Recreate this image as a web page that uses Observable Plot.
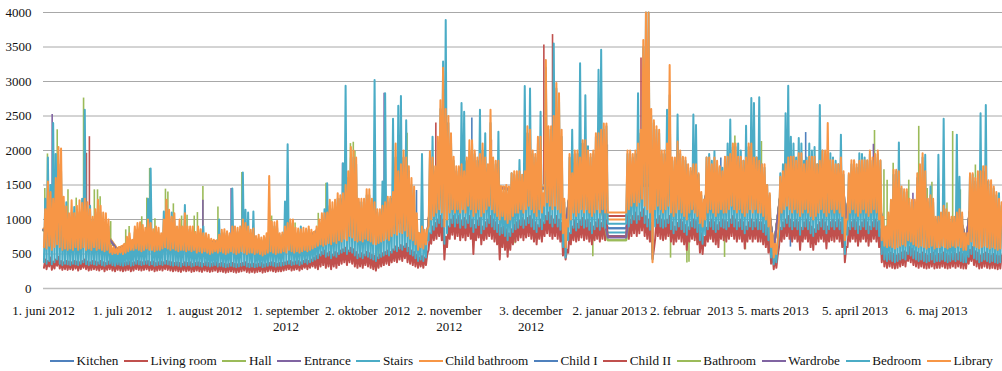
<!DOCTYPE html>
<html>
<head>
<meta charset="utf-8">
<script src="https://cdn.jsdelivr.net/npm/d3@7"></script>
<script src="https://cdn.jsdelivr.net/npm/@observablehq/plot@0.6"></script>
<style>
  html, body { margin: 0; padding: 0; background: #fff; }
  body { width: 1002px; height: 371px; overflow: hidden; font-family: "Liberation Serif", "Times New Roman", "DejaVu Serif", serif; }
  #legend { display: flex; align-items: center; height: 18px; margin-top: 10px; padding-left: 50px; font-size: 13.2px; color: #111; white-space: nowrap; }
  #legend .item { display: flex; align-items: center; margin-right: 5.6px; }
  #legend .sw { display: inline-block; width: 24px; height: 2px; margin-right: 2.6px; }
</style>
</head>
<body>
<div id="chart"></div>
<div id="legend"></div>
<script>
// ---------------- DATA ----------------
const startDate = "2012-06-01";           // day 0
const endDate = "2013-05-31";
const seriesNames = ["Kitchen", "Living room", "Hall", "Entrance", "Stairs", "Child bathroom",
                     "Child I", "Child II", "Bathroom", "Wardrobe", "Bedroom", "Library"];
const seriesColors = ["#4F81BD", "#C0504D", "#9BBB59", "#8064A2", "#4BACC6", "#F79646",
                      "#4F81BD", "#C0504D", "#9BBB59", "#8064A2", "#4BACC6", "#F79646"];
const yTicks = [0, 500, 1000, 1500, 2000, 2500, 3000, 3500, 4000];
const xTickDates = ["2012-06-01", "2012-07-01", "2012-08-01", "2012-09-01", "2012-10-02", "2012-11-02",
                    "2012-12-03", "2013-01-02", "2013-02-02", "2013-03-05", "2013-04-05", "2013-05-06"];
const xTickLabels = ["1. juni 2012", "1. juli 2012", "1. august 2012", "1. september\n2012", "2. oktober  2012",
                     "2. november\n2012", "3. december\n2012", "2. januar 2013", "2. februar  2013",
                     "5. marts 2013", "5. april 2013", "6. maj 2013"];

// Daily readings (one daily low, one daily high), days 0..363 from 1 June 2012; null = no data
const libraryHigh = [
 1150,1550,1400,1300,1600,2050,2030,1330,1190,1090, 1280,1090,1200,1280,1240,1300,1250,1150,1040,1150,
 1285,1200,1100,1090,1000,620,600,580,600,610, 650,750,800,705,900,950,960,920,880,1000,
 950,860,900,880,800,1000,1285,1140,1040,1090, 900,1000,900,1090,900,900,900,820,900,860,
 800,800,780,720,705,700,780,850,860,830, 800,900,900,880,900,1000,950,900,850,870,
 760,780,740,760,800,1630,970,960,980,800, 810,900,950,1000,1000,880,870,860,880,870,
 900,850,820,900,1000,1090,1090,1100,1285,1250, 1285,1380,1350,1380,1500,1700,2050,2000,1900,1300,
 1300,1300,1440,1440,1300,1250,1150,1150,1200,1250, 1330,1330,1400,2100,1700,1800,2000,1900,1770,1600,
 1480,1090,800,900,850,850,1990,1900,1770,2200, 2730,3200,2600,2500,2250,1910,1770,1770,1800,1700,
 1900,2150,2150,2000,1900,1950,2100,1900,1800,2590, 1900,1850,1850,1480,1480,1500,1480,1670,1700,1700,
 1700,1650,1700,2350,2300,2000,1950,2200,2200,1380, 3310,2350,2350,2500,2980,2830,2300,1300,1000,1950,
 1670,2000,2000,1900,2150,2150,2000,1950,2000,2250, 2250,2300,2390,2390,null,null,null,null,null,null,
 null,2000,2000,1950,2000,2100,2300,3600,4300,4300, 2600,2440,2350,2300,2000,2000,2100,3240,1900,1900,
 2130,2000,1910,1900,1800,1745,1800,1800,1670,1400, 1290,1900,1900,1800,1900,1850,1770,1700,1910,1910,
 1950,2100,2100,1910,1910,1850,1900,2100,2100,1900, 1900,1850,1800,1800,1500,1380,800,650,700,1620,
 1700,1800,1900,1910,1910,1850,1960,1960,1800,1850, 1910,1910,1910,1800,1850,2000,2000,2400,1860,1860,
 1800,1800,1900,1700,1000,1670,1860,1860,1800,1850, 1860,1860,1860,2000,1900,1950,2000,1860,1040,900,
 1100,1285,1720,1720,1700,1480,1440,1440,1300,1285, 1285,1670,1800,1960,1700,1300,1350,1300,1040,1040,
 1100,1200,1150,1100,1040,1040,1100,1150,1100,800, 800,1670,1670,1600,1700,1700,1770,1770,1570,1570,
 1480,1400,1300,1250];
const libraryLow = [
 600,580,620,560,600,640,600,560,580,560, 580,560,600,560,580,600,560,580,560,600,
 560,580,560,540,560,520,500,510,500,520, 500,520,540,560,560,580,560,540,560,580,
 560,560,540,560,560,580,600,580,560,580, 560,540,560,560,540,560,540,560,520,540,
 520,540,520,500,520,540,520,540,520,500, 520,540,520,500,520,540,520,500,520,520,
 500,520,500,480,500,520,540,520,500,520, 520,540,520,560,540,520,540,520,540,560,
 540,560,580,600,620,640,620,640,660,640, 680,660,700,680,720,700,760,740,700,680,
 700,680,720,700,680,650,640,660,680,700, 720,700,760,800,780,820,800,840,760,720,
 700,640,560,600,580,640,900,1000,1050,1100, 1150,1100,900,1000,1100,1150,1100,1150,1100,1150,
 1100,1200,1150,1050,1100,1150,1050,1100,1150,1200, 1150,1100,1050,1000,1050,1000,950,1000,1050,1100,
 1100,1150,1100,1150,1200,1150,1100,1050,1150,1100, 1200,1250,1200,1150,1200,1150,1100,800,600,900,
 1000,1100,1050,1100,1150,1100,1150,1100,1050,1100, 1150,1100,1150,1100,1100,null,null,null,null,null,
 null,1100,1150,1200,1250,1200,1250,1300,1200,1150, 1100,380,1150,1200,1150,1100,1150,1200,1100,1050,
 1100,1150,1100,1050,1000,1100,1150,1100,1050,950, 900,1000,1100,1150,1100,1050,1100,1150,1100,1100,
 1150,1200,1150,1100,1150,1100,1050,1100,1150,1100, 1150,1100,1100,1050,1000,900,600,450,500,1000,
 1100,1150,1200,1150,1100,1150,1100,1050,1100,1150, 1100,1050,1000,1050,1100,1150,1100,1050,1100,1150,
 1100,1150,1100,1050,700,1000,1100,1150,1100,1050, 1100,1150,1100,1050,1100,1150,1100,1000,700,620,
 600,620,600,580,600,620,640,620,700,680, 640,620,600,620,600,580,600,620,580,600,
 600,620,600,580,600,620,600,620,600,560, 560,640,680,620,600,580,600,620,600,580,
 600,580,560,580];
const bedroomHigh = [
 1300,1900,1500,2400,1950,1800,1700,1200,1250,1000, 1100,1180,1050,1100,1300,2590,1150,1200,1000,1100,
 1150,1100,1000,950,900,560,560,540,560,560, 600,700,700,660,820,850,850,850,800,1300,
 1740,800,850,800,750,1115,1200,1050,1100,1000, 850,900,850,1210,850,850,800,780,850,800,
 900,760,700,650,650,680,1000,800,800,780, 760,1450,850,820,850,1680,1140,1100,800,1115,
 700,720,700,720,740,900,900,900,880,760, 780,1260,2090,950,950,800,820,900,800,820,
 850,800,780,850,950,1000,1150,1525,1200,1150, 1200,1300,1300,1815,2940,1600,1900,1900,1800,1250,
 1250,1250,1350,1350,1250,3020,1100,1100,1550,2830, 1250,1300,2460,1900,2650,2790,1900,2440,1700,1500,
 1400,1000,750,1950,800,800,1900,2200,1700,2000, 2600,3290,3890,2400,2150,1850,1700,1750,2690,2560,
 1850,2000,2100,1950,1850,2590,2000,2250,1750,2400, 1850,1800,2270,1450,1400,1450,1400,1670,1650,1650,
 1864,1600,2935,2250,2900,1950,1900,2100,2560,1350, 3200,2300,2300,3550,2900,2750,2200,1250,950,1900,
 2300,1950,1950,3265,2100,2800,2060,1900,1950,2200, 3170,3460,2300,2350,null,null,null,null,null,null,
 null,1950,1950,1900,1950,2830,2250,3500,4300,4300, 2500,2400,2300,2250,1950,1950,2590,2800,1850,1850,
 2520,1950,1900,1850,1750,1700,2520,2370,1650,1350, 1250,1900,1950,1850,1990,1800,1750,1750,1900,2100,
 2450,2050,2050,2100,2000,1850,2360,2050,2760,2690, 1900,2770,1800,1750,1500,1350,750,600,650,1670,
 1800,2540,2940,2200,2100,1900,2180,2100,1850,1900, 2100,2000,2050,1800,2660,2000,1950,2000,1960,1900,
 1850,1800,2230,1650,1000,1650,1800,1850,1750,1960, 1950,1900,1850,1950,1850,1900,1950,1850,1000,850,
 1000,1250,1650,1700,2115,1450,1400,1400,1250,1250, 1250,1600,1700,1900,1940,1250,1480,1250,1000,1940,
 1050,2460,1100,1050,1000,1000,2230,1620,1050,760, 780,1650,1650,1550,1650,2540,1700,2660,1550,1500,
 1450,1350,1380,1200];
const bedroomLow = [
 380,360,400,350,380,420,360,340,360,350, 340,360,350,340,360,380,350,340,360,350,
 340,360,340,330,350,360,340,330,350,340, 330,340,350,330,340,360,350,340,350,360,
 340,350,330,340,350,340,360,350,340,330, 340,330,320,340,330,340,320,330,340,330,
 320,340,330,320,330,340,320,330,320,310, 320,330,320,310,320,330,340,320,310,320,
 310,320,330,310,320,330,340,330,320,330, 330,340,350,360,340,350,360,340,360,380,
 360,380,400,420,440,480,500,460,480,440, 480,460,500,520,540,500,540,520,480,440,
 460,440,480,460,440,420,400,440,460,480, 500,480,520,560,540,580,560,600,540,500,
 480,440,400,420,400,450,700,800,850,900, 950,900,650,800,900,950,900,950,880,920,
 880,950,900,820,880,920,800,860,900,950, 900,860,820,780,800,760,700,760,820,860,
 880,920,880,920,950,900,860,820,900,860, 950,1000,950,900,950,900,850,600,450,700,
 800,880,840,880,920,880,900,850,800,860, 900,850,900,880,940,null,null,null,null,null,
 null,940,900,950,1000,950,1000,1050,950,900, 850,420,900,950,900,880,900,950,860,800,
 850,900,860,820,780,860,900,880,820,700, 650,780,860,900,860,820,860,900,880,860,
 900,950,900,860,900,860,800,860,900,860, 900,860,860,820,780,700,450,350,380,780,
 860,900,950,900,860,900,860,780,860,900, 860,800,760,820,860,900,860,800,860,900,
 860,900,860,800,500,780,860,900,860,800, 860,900,860,800,860,900,860,760,500,420,
 400,420,400,380,400,420,440,420,500,480, 440,420,400,420,400,380,400,420,380,400,
 400,420,400,380,400,420,400,420,400,380, 380,460,500,440,420,380,400,420,400,380,
 400,380,370,380];
const childIIHigh = [
 420,400,450,390,420,460,400,380,400,390, 380,400,390,380,400,420,390,380,400,390,
 380,400,380,370,390,400,380,370,390,380, 370,380,390,370,380,400,390,380,390,400,
 380,390,370,380,390,380,400,390,380,370, 380,370,360,380,370,380,360,370,380,370,
 360,380,370,360,370,380,360,370,360,350, 360,370,360,350,360,370,380,360,350,360,
 350,360,370,350,360,370,380,370,360,370, 370,380,390,400,380,390,400,380,400,420,
 400,420,450,470,490,530,550,510,530,490, 530,510,550,570,590,550,590,570,530,490,
 510,490,530,510,490,470,450,490,510,530, 550,530,570,610,590,630,610,650,590,550,
 530,490,450,470,450,500,800,900,950,1000, 1050,1000,750,900,1000,1050,1000,1050,980,1020,
 980,1050,1000,920,980,1020,900,960,1000,1050, 1000,960,920,880,900,860,800,860,920,960,
 980,1020,980,1020,1050,1000,960,920,1000,960, 1050,1100,1050,1000,1050,1000,950,700,560,800,
 900,980,940,980,1020,980,1000,950,900,960, 1000,950,1000,980,null,null,null,null,null,null,
 null,1040,1000,1050,1100,1050,1100,1150,1050,1000, 950,560,1000,1050,1000,980,1000,1050,960,900,
 950,1000,960,920,880,960,1000,980,920,800, 750,880,960,1000,960,920,960,1000,980,960,
 1000,1050,1000,960,1000,960,900,960,1000,960, 1000,960,960,920,880,800,550,450,480,880,
 960,1000,1050,1000,960,1000,960,880,960,1000, 960,900,860,920,960,1000,960,900,960,1000,
 960,1000,960,900,600,880,960,1000,960,900, 960,1000,960,900,960,1000,960,860,600,520,
 500,520,500,480,500,520,540,520,600,580, 540,520,500,520,500,480,500,520,480,500,
 500,520,500,480,500,520,500,520,500,480, 480,560,600,540,520,480,500,520,500,480,
 500,480,470,480];
const childIILow = [
 300,280,320,270,290,330,290,270,280,270, 280,270,290,260,280,300,280,260,270,280,
 270,260,280,250,270,280,260,250,270,260, 250,260,270,250,260,280,270,260,270,280,
 260,270,250,260,270,260,280,270,260,250, 260,250,240,260,250,260,240,250,260,250,
 240,260,250,240,250,260,240,250,240,230, 240,250,240,230,240,250,260,240,230,240,
 230,240,250,230,240,250,260,250,240,250, 250,260,270,280,260,270,280,260,280,300,
 280,300,320,300,280,320,340,300,320,280, 320,300,340,360,380,340,380,360,320,300,
 320,300,340,320,300,280,260,300,320,340, 360,340,380,400,380,420,400,440,380,360,
 340,320,300,320,300,340,560,650,700,720, 760,700,420,600,720,780,720,760,700,740,
 700,760,720,500,700,740,640,700,720,760, 720,680,640,420,600,560,460,560,640,680,
 700,740,700,740,760,720,680,640,720,680, 760,800,760,720,760,720,680,480,420,520,
 640,700,680,700,740,700,720,680,640,700, 720,680,720,700,750,null,null,null,null,null,
 null,750,720,760,800,760,800,840,760,720, 680,430,720,760,720,700,720,760,680,640,
 680,720,680,640,560,680,720,700,640,520, 500,620,680,720,680,640,600,720,700,680,
 720,760,720,680,720,680,580,680,720,680, 720,680,680,640,600,520,360,280,300,600,
 680,720,760,720,680,720,680,560,680,720, 680,600,560,640,680,720,680,580,680,700,
 680,720,680,600,380,600,680,720,680,620, 680,720,680,620,680,720,680,600,380,320,
 300,320,300,290,300,320,340,320,400,380, 340,320,300,320,300,290,300,320,290,300,
 300,320,300,290,300,320,300,320,300,290, 290,360,400,340,320,290,300,320,300,290,
 300,290,280,290];

// Other rooms: sparser readings on these days (inside the dense band; the January gap is held flat)
const levelDays = [0,14,24.5,28,31,42,56,70,84,98, 112,126,140,141.5,145.5,147,154,168,182,196,
                   197.7,199.5,210,214.17,221.17,224,238,248.5,250.5,252, 266,275.5,277.2,279.5,294,303.8,304.3,305.5,317.3,318.5,
                   320.5,336,348.8,350.2,351.5,364];
const kitchenLevel       = [850,900,750,560,620,700,700,650,650,700, 1000,900,1000,800,720,1300,1500,1500,1400,1500, 800,1300,1500,875,875,1500,1500,1100,1100,1500, 1500,1100,580,1300,1500,1400,850,1300,1400,800, 900,900,900,680,1100,900];
const livingRoomLevel    = [860,910,760,570,630,710,710,660,660,710, 1010,910,1010,810,730,1310,1520,1510,1410,1510, 810,1310,1510,1050,1050,1510,1510,1110,1110,1510, 1510,1110,590,1310,1510,1410,860,1310,1410,810, 910,910,910,690,1110,910];
const hallLevel          = [840,890,740,550,610,690,690,640,640,690, 990,890,990,790,710,1290,1480,1490,1390,1490, 790,1290,1490,700,700,1490,1490,1090,1090,1490, 1490,1090,570,1290,1490,1390,840,1290,1390,790, 890,890,890,670,1090,890];
const entranceLevel      = [845,895,745,555,615,695,695,645,645,695, 995,895,995,795,715,1295,1490,1495,1395,1495, 795,1295,1495,760,760,1495,1495,1095,1095,1495, 1495,1095,575,1295,1495,1395,845,1295,1395,795, 895,895,895,675,1095,895];
const stairsLevel        = [855,905,755,565,625,705,705,655,655,705, 1005,905,1005,805,725,1305,1510,1505,1405,1505, 805,1305,1505,810,810,1505,1505,1105,1105,1505, 1505,1105,585,1305,1505,1405,855,1305,1405,805, 905,905,905,685,1105,905];
const childBathroomLevel = [870,920,770,580,640,720,720,670,670,720, 1020,920,1020,820,740,1320,1530,1520,1420,1520, 820,1320,1520,1000,1000,1520,1520,1120,1120,1520, 1520,1120,600,1320,1520,1420,870,1320,1420,820, 920,920,920,700,1120,920];
const childILevel        = [850,900,750,560,620,700,700,650,650,700, 1000,900,1000,800,720,1300,1500,1500,1400,1500, 800,1300,1500,875,875,1500,1500,1100,1100,1500, 1500,1100,580,1300,1500,1400,850,1300,1400,800, 900,900,900,680,1100,900];
const bathroomLevel      = [840,890,740,550,610,690,690,640,640,690, 990,890,990,790,710,1290,1480,1490,1390,1490, 790,1290,1490,700,700,1490,1490,1090,1090,1490, 1490,1090,570,1290,1490,1390,840,1290,1390,790, 890,890,890,670,1090,890];
const wardrobeLevel      = [845,895,745,555,615,695,695,645,645,695, 995,895,995,795,715,1295,1490,1495,1395,1495, 795,1295,1495,740,740,1495,1495,1095,1095,1495, 1495,1095,575,1295,1495,1395,845,1295,1395,795, 895,895,895,675,1095,895];

// Short excursions: [day, from, to]
const kitchenSpikes = [[162.6,1500,2470],[214.0,1500,2080],[257.1,1300,1890],[289.3,1400,2260]];
const livingRoomSpikes = [[16.3,600,1960],[17.4,600,2200],[148.9,1200,2400],[170.0,1200,2150],[189.9,1500,3530],[193.2,1500,3680],[226.8,1500,3340]];
const hallSpikes = [[5.2,1000,2300],[15.2,1000,2760],[46.3,800,1440],[60.5,700,1480],[75.3,700,1680],[116.5,1000,2100],[117.6,1000,2120],[118.2,1000,1990],[138.0,1200,2250],
                    [126.5,415,700],[127.3,420,700],[179.0,650,1000],[208.5,460,900],[238.0,440,900],[244.2,370,900],[245.0,380,900],[258.5,450,900],[266.4,560,900]];
const entranceSpikes = [[113.5,1000,1815],[129.3,1200,2830],[330.0,800,1380],[335.4,800,1285]];
const childISpikes = [[141.6,1000,1420],[243.8,1200,1800],[283.5,600,900]];
const bathroomSpikes = [[0.5,800,1450],[1.5,800,1950],[4.5,900,1950],[9.3,700,1430],[12.4,700,1310],[19.3,700,1430],[20.5,700,1430],[21.5,700,1330],
                        [25.5,500,970],[31.2,500,850],[32.5,500,900],[37.3,600,1040],[39.2,600,1310],[40.3,700,1740],[42.3,600,1010],[47.2,700,1400],
                        [49.3,700,1227],[52.4,600,1050],[54.5,600,1060],[57.2,600,1050],[58.4,600,1100],[66.2,600,1180],[86.6,600,1050],[95.5,600,950],
                        [104.3,600,1090],[107.2,700,1525],[262.4,1300,2210],[272.5,1300,2130],[315.4,1200,2290],[319.0,800,1720],[320.2,800,1570],
                        [322.5,900,1815],[328.4,800,1570],[332.2,900,2350],[335.4,800,1450],[337.2,800,1540],[342.9,700,1240],[345.1,900,2275],
                        [348.0,800,1430],[353.7,800,1790],[362.5,700,1380]];
const wardrobeSpikes = [[3.3,1000,2520],[60.5,800,1280],[71.2,700,1450],[315.0,1200,2090]];

// ---------------- BUILD ----------------
const t0 = d3.utcParse("%Y-%m-%d")(startDate);
const at = d => d3.utcHour.offset(t0, Math.round(d * 24));
function daily(name, lo, hi) {
  const pts = [];
  lo.forEach((l, d) => {
    if (l != null) pts.push({name, date: at(d + 4 / 24), value: l});
    if (hi[d] != null) pts.push({name, date: at(d + 16 / 24), value: hi[d]});
  });
  return pts;
}
function sparse(name, vals) {
  return vals.map((v, i) => ({name, date: at(levelDays[i]), value: v}));
}
function spikes(list) {
  return list.map(([d, a, b]) => ({date: at(d), y1: a, y2: b}));
}
const lines = {
  "Kitchen": [sparse("Kitchen", kitchenLevel), kitchenSpikes],
  "Living room": [sparse("Living room", livingRoomLevel), livingRoomSpikes],
  "Hall": [sparse("Hall", hallLevel), hallSpikes],
  "Entrance": [sparse("Entrance", entranceLevel), entranceSpikes],
  "Stairs": [sparse("Stairs", stairsLevel), []],
  "Child bathroom": [sparse("Child bathroom", childBathroomLevel), []],
  "Child I": [sparse("Child I", childILevel), childISpikes],
  "Child II": [daily("Child II", childIILow, childIIHigh), []],
  "Bathroom": [sparse("Bathroom", bathroomLevel), bathroomSpikes],
  "Wardrobe": [sparse("Wardrobe", wardrobeLevel), wardrobeSpikes],
  "Bedroom": [daily("Bedroom", bedroomLow, bedroomHigh), []],
  "Library": [daily("Library", libraryLow, libraryHigh), []]
};

const seriesMarks = [];
seriesNames.forEach((name, i) => {
  const [pts, sp] = lines[name];
  const c = seriesColors[i];
  seriesMarks.push(Plot.line(pts, {x: "date", y: "value", stroke: c, strokeWidth: 2}));
  if (sp.length) seriesMarks.push(Plot.ruleX(spikes(sp), {x: "date", y1: "y1", y2: "y2", stroke: c, strokeWidth: 1.6}));
});

const tickDates = xTickDates.map(s => d3.utcParse("%Y-%m-%d")(s));
const labelOf = new Map(tickDates.map((d, i) => [+d, xTickLabels[i]]));

const chart = Plot.plot({
  width: 1002,
  height: 342,
  marginLeft: 43,
  marginRight: 0,
  marginTop: 12,
  marginBottom: 54,
  style: {fontFamily: "'Liberation Serif', 'Times New Roman', 'DejaVu Serif', serif", fontSize: "13px", color: "#111", background: "#fff"},
  x: {type: "utc", domain: [t0, d3.utcParse("%Y-%m-%d")(endDate)]},
  y: {domain: [0, 4000], clamp: true},
  marks: [
    Plot.ruleY(yTicks.filter(v => v > 0), {stroke: "#a8a8a8", strokeWidth: 1}),
    ...seriesMarks,
    Plot.ruleY([0], {stroke: "#bdbdbd", strokeWidth: 1.5}),
    Plot.axisY(yTicks, {tickSize: 0, tickPadding: 12, tickFormat: "d", fontSize: 13}),
    Plot.axisX(tickDates, {tickSize: 0, tickPadding: 14, tickFormat: d => labelOf.get(+d), fontSize: 13, lineHeight: 1.3})
  ]
});
document.getElementById("chart").appendChild(chart);

const legend = d3.select("#legend");
seriesNames.forEach((name, i) => {
  const it = legend.append("div").attr("class", "item");
  it.append("span").attr("class", "sw").style("background", seriesColors[i]);
  it.append("span").text(name);
});
</script>
</body>
</html>
